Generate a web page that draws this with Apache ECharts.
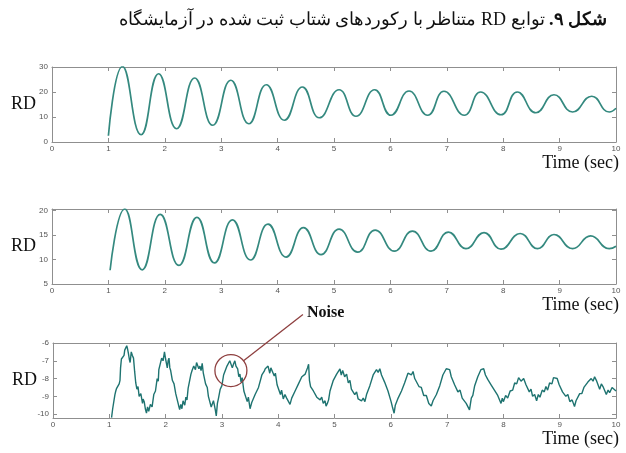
<!DOCTYPE html>
<html>
<head>
<meta charset="utf-8">
<script src="https://cdn.jsdelivr.net/npm/echarts@6/dist/echarts.min.js"></script>
<style>
  html, body { margin: 0; padding: 0; background: #fff; }
  #main { width: 626px; height: 453px; }
</style>
</head>
<body>
<div id="main"></div>
<script>
// caption (persian), drawn right-to-left
var titleBold = 'شکل ۹.';
var titleRest = 'توابع RD متناظر با رکوردهای شتاب ثبت شده در آزمایشگاه';
var yName = 'RD';
var xName = 'Time (sec)';
var noiseText = 'Noise';

// x axis: time 0..10 s
var xMin = 0, xMax = 10, xStep = 1;

// y ranges of the three panels [min, max, interval]
var yRange1 = [0, 30, 10];
var yRange2 = [5, 20.3, 5];
var yRange3 = [-10.22, -6, null];

// panel 1 : RD (peaks / troughs)
var rd1 = [
  [1.0, 2.5], [1.25, 30.2], [1.58, 2.9], [1.89, 27.3], [2.21, 5.3], [2.53, 25.6],
  [2.85, 6.7], [3.17, 24.7], [3.49, 7.3], [3.8, 22.9], [4.12, 8.7], [4.44, 22.0],
  [4.74, 9.7], [5.09, 20.9], [5.39, 10.3], [5.72, 20.9], [6.01, 10.7], [6.33, 20.4],
  [6.66, 10.7], [6.95, 20.3], [7.31, 10.7], [7.6, 20.0], [7.96, 10.9], [8.25, 20.0],
  [8.58, 11.7], [8.9, 18.9], [9.23, 12.0], [9.57, 18.3], [9.88, 12.0], [10.0, 13.5]
];

// panel 2
var rd2 = [
  [1.03, 7.8], [1.29, 20.3], [1.6, 7.9], [1.92, 19.2], [2.25, 8.8], [2.57, 18.6],
  [2.88, 9.3], [3.2, 18.1], [3.52, 9.9], [3.83, 17.2], [4.15, 10.5], [4.46, 16.5],
  [4.77, 11.0], [5.09, 16.2], [5.42, 11.5], [5.73, 16.0], [6.07, 11.7], [6.39, 15.8],
  [6.72, 11.7], [7.03, 15.6], [7.34, 12.2], [7.66, 15.5], [7.96, 12.1], [8.3, 15.3],
  [8.61, 12.2], [8.9, 15.1], [9.23, 12.2], [9.55, 14.8], [9.88, 12.2], [10.0, 12.7]
];

// panel 3 : noisy record
var rd3 = [
  [1.04,-10.2],[1.06,-9.7],[1.085,-9.2],[1.1,-8.9],[1.115,-8.7],[1.13,-8.55],[1.156,-8.6],[1.175,-8.3],
  [1.19,-8.1],[1.2,-7.4],[1.215,-6.9],[1.235,-6.95],[1.25,-7.0],[1.262,-6.7],[1.274,-6.4],[1.29,-6.3],
  [1.31,-6.15],[1.325,-6.35],[1.34,-6.6],[1.355,-6.9],[1.37,-7.1],[1.38,-6.8],[1.39,-6.5],[1.41,-6.7],
  [1.43,-6.85],[1.45,-7.6],[1.47,-8.25],[1.49,-8.6],[1.51,-8.45],[1.53,-9.0],[1.56,-8.85],[1.59,-9.4],
  [1.6,-9.15],[1.62,-9.3],[1.64,-9.7],[1.66,-9.95],[1.68,-9.6],[1.7,-9.85],[1.73,-9.45],[1.76,-9.6],
  [1.79,-8.9],[1.82,-8.7],[1.85,-8.0],[1.87,-8.15],[1.88,-7.5],[1.9,-7.45],[1.93,-6.85],[1.955,-7.0],
  [1.98,-6.5],[2.0,-6.9],[2.03,-7.4],[2.045,-7.0],[2.06,-6.85],[2.075,-7.4],[2.09,-7.55],[2.12,-8.1],
  [2.15,-8.3],[2.18,-8.85],[2.21,-8.9],[2.23,-9.5],[2.25,-9.75],[2.27,-9.45],[2.29,-9.7],[2.31,-9.25],
  [2.34,-9.5],[2.36,-9.05],[2.38,-9.2],[2.4,-8.55],[2.43,-8.45],[2.45,-7.75],[2.47,-7.55],[2.5,-7.3],
  [2.53,-7.5],[2.55,-7.1],[2.57,-7.0],[2.59,-7.45],[2.61,-7.3],[2.63,-7.55],[2.65,-7.15],[2.67,-7.7],
  [2.69,-7.8],[2.71,-8.3],[2.74,-8.5],[2.76,-9.0],[2.79,-9.1],[2.81,-9.6],[2.83,-9.5],[2.85,-9.25],
  [2.87,-9.55],[2.885,-9.8],[2.9,-10.1],[2.92,-9.4],[2.94,-9.1],[2.97,-8.6],[3.0,-8.4],[3.03,-7.8],
  [3.06,-7.75],[3.09,-7.3],[3.12,-7.35],[3.14,-7.0],[3.16,-7.1],[3.185,-7.4],[3.21,-7.15],[3.23,-7.0],
  [3.25,-7.3],[3.28,-7.45],[3.3,-7.9],[3.32,-7.75],[3.34,-8.2],[3.36,-7.95],[3.39,-8.7],[3.42,-8.8],
  [3.45,-9.3],[3.47,-9.05],[3.5,-9.7],[3.53,-9.35],[3.56,-9.45],[3.59,-8.9],[3.62,-9.0],[3.65,-8.5],
  [3.68,-8.4],[3.71,-7.8],[3.75,-7.6],[3.77,-7.45],[3.8,-7.5],[3.82,-7.3],[3.85,-7.7],[3.87,-7.4],
  [3.89,-7.3],[3.91,-7.7],[3.93,-7.85],[3.95,-7.7],[3.98,-8.35],[4.01,-8.4],[4.04,-8.9],[4.06,-8.65],
  [4.09,-9.15],[4.12,-8.9],[4.15,-9.1],[4.18,-9.15],[4.21,-9.45],[4.24,-9.1],[4.27,-9.1],[4.3,-8.7],
  [4.33,-8.75],[4.36,-8.3],[4.39,-8.3],[4.42,-7.9],[4.45,-7.95],[4.48,-7.75],[4.5,-7.85],[4.52,-7.4],
  [4.54,-7.2],[4.555,-8.1],[4.575,-8.45],[4.596,-8.35],[4.625,-8.7],[4.655,-8.65],[4.685,-9.05],[4.714,-8.95],
  [4.745,-9.2],[4.773,-9.05],[4.8,-9.4],[4.832,-9.25],[4.85,-9.55],[4.873,-9.4],[4.895,-9.2],[4.92,-8.7],
  [4.95,-8.65],[4.979,-8.1],[5.01,-8.15],[5.038,-7.75],[5.065,-7.8],[5.097,-7.45],[5.12,-7.8],[5.145,-7.55],
  [5.18,-7.9],[5.215,-7.75],[5.245,-8.25],[5.274,-8.1],[5.3,-8.6],[5.333,-8.5],[5.36,-8.9],[5.392,-8.75],
  [5.42,-9.15],[5.451,-9.05],[5.48,-9.25],[5.51,-9.1],[5.54,-9.3],[5.569,-8.9],[5.6,-8.95],[5.628,-8.4],
  [5.66,-8.35],[5.687,-7.8],[5.715,-7.85],[5.746,-7.5],[5.775,-7.65],[5.805,-7.45],[5.835,-7.8],[5.864,-7.75],
  [5.89,-8.2],[5.923,-8.2],[5.95,-8.7],[5.982,-8.65],[6.005,-9.3],[6.029,-9.6],[6.059,-9.95],[6.08,-9.5],
  [6.1,-9.5],[6.13,-9.1],[6.159,-9.15],[6.19,-8.7],[6.218,-8.75],[6.245,-8.25],[6.277,-8.15],[6.305,-7.7],
  [6.336,-7.65],[6.365,-7.8],[6.395,-7.6],[6.425,-8.0],[6.454,-7.95],[6.5,-8.45],[6.542,-8.5],[6.585,-8.95],
  [6.631,-8.95],[6.675,-9.4],[6.719,-9.55],[6.75,-9.25],[6.778,-9.3],[6.81,-8.9],[6.838,-8.95],[6.87,-8.4],
  [6.897,-8.35],[6.925,-7.8],[6.956,-7.7],[6.985,-7.45],[7.015,-7.55],[7.045,-7.5],[7.074,-7.9],[7.1,-7.9],
  [7.133,-8.35],[7.16,-8.3],[7.192,-8.75],[7.23,-8.65],[7.268,-9.1],[7.3,-9.0],[7.339,-9.4],[7.37,-9.3],
  [7.398,-9.76],[7.43,-9.1],[7.457,-8.95],[7.49,-8.4],[7.516,-8.35],[7.545,-7.9],[7.575,-7.85],[7.6,-7.5],
  [7.622,-7.55],[7.65,-7.45],[7.681,-7.8],[7.7,-7.7],[7.722,-8.05],[7.75,-7.95],[7.781,-8.35],[7.81,-8.3],
  [7.84,-8.65],[7.87,-8.55],[7.899,-8.95],[7.93,-9.0],[7.958,-9.4],[7.98,-9.1],[7.999,-9.3],[8.04,-8.95],
  [8.076,-9.1],[8.12,-8.7],[8.165,-8.65],[8.2,-8.25],[8.236,-8.3],[8.27,-7.95],[8.313,-8.15],[8.36,-8.0],
  [8.401,-8.35],[8.43,-8.3],[8.46,-8.75],[8.49,-8.6],[8.519,-9.0],[8.555,-8.9],[8.59,-9.25],[8.62,-8.9],
  [8.649,-9.05],[8.69,-8.65],[8.726,-8.75],[8.755,-8.45],[8.785,-8.65],[8.82,-8.25],[8.862,-8.3],[8.89,-7.95],
  [8.92,-8.05],[8.955,-8.0],[8.991,-8.35],[9.02,-8.35],[9.05,-8.75],[9.08,-8.65],[9.109,-9.0],[9.145,-8.9],
  [9.18,-9.3],[9.22,-9.2],[9.263,-9.57],[9.29,-9.25],[9.316,-9.3],[9.355,-8.85],[9.392,-8.85],[9.43,-8.5],
  [9.463,-8.55],[9.5,-8.2],[9.533,-8.3],[9.56,-8.0],[9.592,-8.15],[9.62,-7.9],[9.651,-8.1],[9.68,-8.2],
  [9.71,-8.6],[9.74,-8.3],[9.769,-8.45],[9.8,-8.5],[9.828,-8.9],[9.86,-8.65],[9.887,-8.8],[9.93,-8.5],
  [9.965,-8.6],[10,-8.7]
];

// where the "Noise" circle sits (data coords, panel 3)
var noiseAt = [3.16, -7.55];

var myChart = echarts.init(document.getElementById('main'));

var axisGray = '#8f8f8f';
var serif = 'Liberation Serif';
var grids = [
  { left: 52, right: 10, top: 67, height: 75 },
  { left: 52, right: 10, top: 209, height: 75 },
  { left: 53, right: 10, top: 343, height: 75 }
];
var yRanges = [yRange1, yRange2, yRange3];
var datas = [rd1, rd2, rd3];

var xAxes = [], yAxes = [], series = [];

// only whole numbers get a label (extent ends are skipped)
function intLabel(v) {
  return Math.abs(v - Math.round(v)) < 1e-6 ? String(Math.round(v)) : '';
}

for (var i = 0; i < 3; i++) {
  xAxes.push({
    gridIndex: i, type: 'value', min: xMin, max: xMax, interval: xStep,
    axisLine: { onZero: false, lineStyle: { color: axisGray, width: 1 } },
    axisTick: { inside: true, length: 4, lineStyle: { color: axisGray } },
    axisLabel: { fontSize: 8, color: '#555', margin: 3, fontFamily: 'Liberation Sans' },
    splitLine: { show: false },
    name: xName, nameLocation: 'end', nameGap: 3, nameMoveOverlap: false,
    nameTextStyle: {
      fontFamily: serif, fontSize: 18, color: '#111',
      align: 'right', verticalAlign: 'top', padding: [12, 0, 0, 0]
    }
  });
  yAxes.push({
    gridIndex: i, type: 'value', min: yRanges[i][0], max: yRanges[i][1],
    interval: yRanges[i][2] || undefined,
    axisLine: { show: true, onZero: false, lineStyle: { color: axisGray, width: 1 } },
    axisTick: { show: true, inside: true, length: 4, lineStyle: { color: axisGray } },
    axisLabel: { fontSize: 8, color: '#555', margin: 4, fontFamily: 'Liberation Sans', formatter: intLabel },
    splitLine: { show: false },
    name: yName, nameLocation: 'middle', nameRotate: 0, nameGap: 16, nameMoveOverlap: false,
    nameTextStyle: { fontFamily: serif, fontSize: 18, color: '#111' }
  });
  series.push({
    type: 'line',
    xAxisIndex: i, yAxisIndex: i,
    data: datas[i],
    smooth: i < 2,
    showSymbol: false,
    lineStyle: { color: i < 2 ? '#34897f' : '#1e7370', width: i < 2 ? 1.7 : 1.4 }
  });
}
// mirrored box (top and right) like the matlab figure
for (var j = 0; j < 3; j++) {
  xAxes.push({
    gridIndex: j, type: 'value', position: 'top', min: xMin, max: xMax, interval: xStep,
    axisLine: { onZero: false, lineStyle: { color: axisGray, width: 1 } },
    axisTick: { inside: true, length: 4, lineStyle: { color: axisGray } },
    axisLabel: { show: false }, splitLine: { show: false }
  });
  yAxes.push({
    gridIndex: j, type: 'value', position: 'right', min: yRanges[j][0], max: yRanges[j][1],
    interval: yRanges[j][2] || undefined,
    axisLine: { show: true, onZero: false, lineStyle: { color: axisGray, width: 1 } },
    axisTick: { show: true, inside: true, length: 4, lineStyle: { color: axisGray } },
    axisLabel: { show: false }, splitLine: { show: false }
  });
}

var RLE = '\u202B', PDF = '\u202C';

var option = {
  animation: false,
  backgroundColor: '#fff',
  title: {
    text: '{r|' + RLE + titleRest + PDF + '} {b|' + RLE + titleBold + PDF + '}',
    right: 19, top: 11, padding: 0,
    textStyle: {
      fontFamily: serif, fontSize: 18, fontWeight: 'normal', color: '#111',
      rich: {
        r: { fontFamily: serif, fontSize: 18, fontWeight: 'normal', color: '#111' },
        b: { fontFamily: serif, fontSize: 18, fontWeight: 'bold', color: '#111' }
      }
    }
  },
  grid: grids.map(function (g) { return Object.assign({ outerBoundsMode: 'none' }, g); }),
  xAxis: xAxes,
  yAxis: yAxes,
  series: series
};
myChart.setOption(option);

// "Noise" call-out, anchored on the data through the chart's own scale
var c = myChart.convertToPixel({ gridIndex: 2 }, noiseAt);
var r = 16;
var tx = c[0] + 72, ty = c[1] - 56;
var dx = tx - c[0], dy = ty - c[1], len = Math.sqrt(dx * dx + dy * dy);
myChart.setOption({
  graphic: [
    { type: 'circle', shape: { cx: c[0], cy: c[1], r: r }, style: { fill: 'none', stroke: '#8e3f3f', lineWidth: 1.3 }, z: 100 },
    { type: 'line', shape: { x1: c[0] + dx / len * r, y1: c[1] + dy / len * r, x2: tx, y2: ty }, style: { stroke: '#8e3f3f', lineWidth: 1.3 }, z: 100 },
    { type: 'text', x: tx + 4, y: ty - 2, style: { text: noiseText, font: 'bold 16px "Liberation Serif"', fill: '#111', verticalAlign: 'middle' }, z: 100 }
  ]
});
</script>
</body>
</html>
